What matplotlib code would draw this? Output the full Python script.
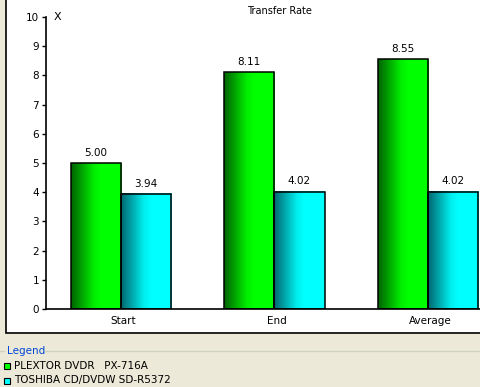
import numpy as np
import matplotlib
matplotlib.use("Agg")
import matplotlib.pyplot as plt
from matplotlib.patches import Rectangle
from matplotlib.colors import LinearSegmentedColormap

# data
categories = ["Start", "End", "Average"]
plextor = [5.00, 8.11, 8.55]
toshiba = [3.94, 4.02, 4.02]
series_names = ["PLEXTOR DVDR   PX-716A", "TOSHIBA CD/DVDW SD-R5372"]

W, H = 481, 387
fig = plt.figure(figsize=(W / 100, H / 100), dpi=100)
fig.patch.set_facecolor("#ECE9D8")

# white chart panel with black left/bottom border (drawn behind the axes)
panel = Rectangle((5.5 / W, 1 - 332.5 / H), 1.2, 1, transform=fig.transFigure,
                  facecolor="white", edgecolor="black", linewidth=1.2, zorder=-5)
fig.patches.append(panel)

px_per_cat = 153.3
ax = fig.add_axes([46 / W, 1 - 309 / H, 3 * px_per_cat / W, 292 / H])
ax.set_zorder(2)
ax.patch.set_alpha(0)

green_cmap = LinearSegmentedColormap.from_list(
    "g", [(0, "#006400"), (0.45, "#00EE00"), (0.6, "#00FF00"), (1, "#00FF00")])
cyan_cmap = LinearSegmentedColormap.from_list(
    "c", [(0, "#006870"), (0.45, "#00EEEE"), (0.6, "#00FFFF"), (1, "#00FFFF")])

x = np.arange(len(categories))
bw = 0.327
grad = np.linspace(0, 1, 100).reshape(1, -1)
for vals, offset, cmap in [(plextor, -bw / 2, green_cmap), (toshiba, bw / 2, cyan_cmap)]:
    bars = ax.bar(x + offset, vals, bw, facecolor="none", edgecolor="black",
                  linewidth=1.1, zorder=3)
    for b, v in zip(bars, vals):
        x0 = b.get_x()
        ax.imshow(grad, cmap=cmap, aspect="auto", interpolation="bilinear",
                  extent=(x0, x0 + b.get_width(), 0, v), zorder=2)
        ax.text(x0 + b.get_width() / 2, v + 0.18, f"{v:.2f}", ha="center",
                va="bottom", fontsize=7.5)
ax.set_xlim(-0.49, 2.51)
ax.set_ylim(0, 10)

for s in ["top", "right"]:
    ax.spines[s].set_visible(False)
ax.spines["left"].set_linewidth(1.2)
ax.spines["bottom"].set_linewidth(1.2)
ax.set_yticks(range(0, 11))
ax.tick_params(axis="y", length=3, width=1, labelsize=7.5, pad=2)
ax.set_xticks(x + 0.015)
ax.set_xticklabels(categories, fontsize=7.5)
ax.tick_params(axis="x", length=0, pad=5)
ax.text(0.016, 10, "X", transform=ax.get_yaxis_transform(), fontsize=8,
        va="center", ha="left")

fig.text(279 / W, 1 - 11 / H, "Transfer Rate", ha="center", va="center", fontsize=7)

# legend area
fig.add_artist(plt.Line2D([0, 4 / W], [1 - 351 / H] * 2, color="#D0D0BF", lw=1,
                          transform=fig.transFigure))
fig.add_artist(plt.Line2D([45 / W, 1], [1 - 351 / H] * 2, color="#D0D0BF", lw=1,
                          transform=fig.transFigure))
fig.text(7 / W, 1 - 351 / H, "Legend", color="#0046D5", fontsize=7.5,
         va="center", ha="left")
for i, (name, col) in enumerate(zip(series_names, ["#00FF00", "#00FFFF"])):
    yc = 1 - (366 + 14.5 * i) / H
    fig.patches.append(Rectangle((4 / W, yc - 3 / H), 6 / W, 6 / H,
                                 transform=fig.transFigure, facecolor=col,
                                 edgecolor="black", linewidth=0.8))
    fig.text(14 / W, yc, name, fontsize=7.5, va="center", ha="left")

fig.savefig("out.png", dpi=100)
